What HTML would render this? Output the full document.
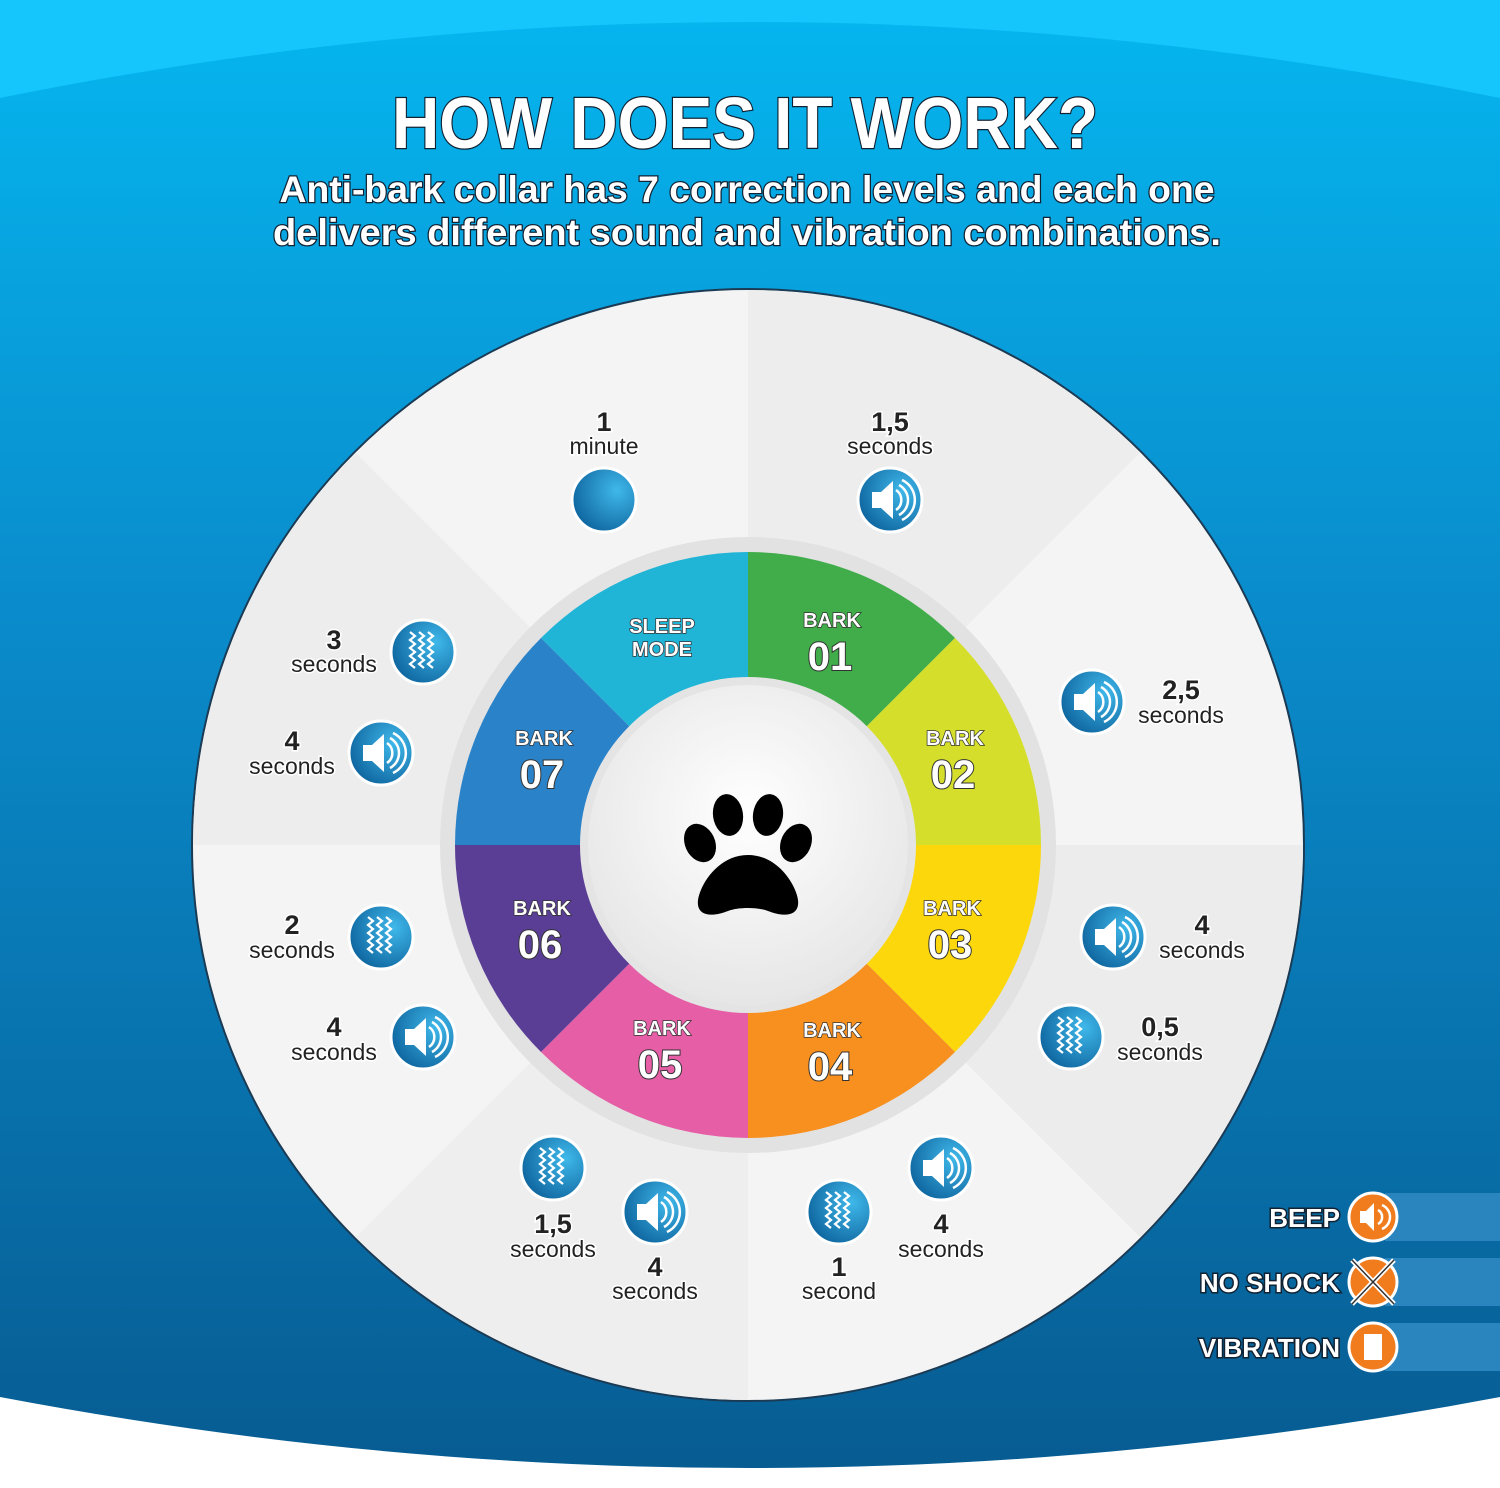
<!DOCTYPE html>
<html><head><meta charset="utf-8"><style>
html,body{margin:0;padding:0;background:#fff}
svg{display:block}
text{font-family:"Liberation Sans",sans-serif}
.t{font-weight:bold;fill:#fff;stroke:#123;stroke-width:2.5;paint-order:stroke}
.n{font-size:27px;font-weight:bold;fill:#222;stroke:#fff;stroke-width:3;paint-order:stroke;text-anchor:middle}
.s{font-size:23px;fill:#222;stroke:#fff;stroke-width:3;paint-order:stroke;text-anchor:middle}
.b1{font-size:20px;font-weight:bold;fill:#fff;stroke:#333;stroke-width:1.5;paint-order:stroke;text-anchor:middle}
.b2{font-size:40px;font-weight:bold;fill:#fff;stroke:#333;stroke-width:2;paint-order:stroke;text-anchor:middle}
.lg{font-size:26px;font-weight:bold;fill:#fff;stroke:#123;stroke-width:3;paint-order:stroke;text-anchor:end}
</style></head><body>
<svg width="1500" height="1488" viewBox="0 0 1500 1488" xmlns="http://www.w3.org/2000/svg">
<defs>
<linearGradient id="bg" x1="0" y1="0" x2="0" y2="1">
<stop offset="0" stop-color="#05b5ee"/><stop offset="0.4" stop-color="#0a8ccc"/><stop offset="1" stop-color="#075c92"/>
</linearGradient>
<radialGradient id="ic" cx="0.7" cy="0.35" r="0.8">
<stop offset="0" stop-color="#3fb8ea"/><stop offset="1" stop-color="#0b5f99"/>
</radialGradient>
<radialGradient id="ctr" cx="0.5" cy="0.4" r="0.6">
<stop offset="0" stop-color="#ffffff"/><stop offset="1" stop-color="#e6e6e6"/>
</radialGradient>
<g id="sp">
<circle r="32" fill="url(#ic)" stroke="#fff" stroke-width="3"/>
<path d="M-18,-8 L-9,-8 L3,-19 L3,19 L-9,8 L-18,8 Z" fill="#fff"/>
<path d="M6,-10 A12,12 0 0 1 6,10 M9,-15 A17,17 0 0 1 9,15 M12,-20 A22,22 0 0 1 12,20" fill="none" stroke="#fff" stroke-width="2.5"/>
</g>
<g id="vb">
<circle r="32" fill="url(#ic)" stroke="#fff" stroke-width="3"/>
<path d="M-13,-20 l5,4 l-5,4 l5,4 l-5,4 l5,4 l-5,4 l5,4 l-5,4 l5,4 M-4,-20 l5,4 l-5,4 l5,4 l-5,4 l5,4 l-5,4 l5,4 l-5,4 l5,4 M5,-20 l5,4 l-5,4 l5,4 l-5,4 l5,4 l-5,4 l5,4 l-5,4 l5,4" fill="none" stroke="#fff" stroke-width="2.2"/>
</g>
</defs>
<rect width="1500" height="1488" fill="#fff"/>
<rect width="1500" height="1000" fill="#14c6fb"/>
<path d="M0,98 Q750,-54 1500,98 L1500,1397 Q750,1539 0,1397 Z" fill="url(#bg)"/>
<text class="t" x="745" y="148" font-size="72" text-anchor="middle" textLength="706" lengthAdjust="spacingAndGlyphs">HOW DOES IT WORK?</text>
<text class="t" x="747" y="202" font-size="37" text-anchor="middle" textLength="935" lengthAdjust="spacingAndGlyphs">Anti-bark collar has 7 correction levels and each one</text>
<text class="t" x="747" y="245" font-size="37" text-anchor="middle" textLength="948" lengthAdjust="spacingAndGlyphs">delivers different sound and vibration combinations.</text>

<!-- outer disk -->
<g transform="translate(748,845)">
<circle r="556" fill="#f4f4f4" stroke="#1b3b55" stroke-width="2"/>
<path d="M0,0 L0,-555 A555,555 0 0 1 392,-392 Z" fill="#ededed"/>
<path d="M0,0 L555,0 A555,555 0 0 1 392,392 Z" fill="#ececec"/>
<path d="M0,0 L0,555 A555,555 0 0 1 -392,392 Z" fill="#eeeeee"/>
<path d="M0,0 L-555,0 A555,555 0 0 1 -392,-392 Z" fill="#ededed"/>
<circle r="308" fill="#e2e2e2"/>
<path d="M0,0 L-207,-207 A293,293 0 0 1 0,-293 Z" fill="#20b4d6"/>
<path d="M0,0 L0,-293 A293,293 0 0 1 207,-207 Z" fill="#40ad4a"/>
<path d="M0,0 L207,-207 A293,293 0 0 1 293,0 Z" fill="#d5df2b"/>
<path d="M0,0 L293,0 A293,293 0 0 1 207,207 Z" fill="#fbd70c"/>
<path d="M0,0 L207,207 A293,293 0 0 1 0,293 Z" fill="#f7901f"/>
<path d="M0,0 L0,293 A293,293 0 0 1 -207,207 Z" fill="#e55ea6"/>
<path d="M0,0 L-207,207 A293,293 0 0 1 -293,0 Z" fill="#5a3e95"/>
<path d="M0,0 L-293,0 A293,293 0 0 1 -207,-207 Z" fill="#2a82c9"/>
<circle r="168" fill="#e4e4e4"/>
<circle r="160" fill="url(#ctr)"/>
<!-- paw -->
<g fill="#000">
<path d="M0,10 C-30,10 -48,40 -50,55 C-52,72 -35,72 -20,66 C-10,62 10,62 20,66 C35,72 52,72 50,55 C48,40 30,10 0,10 Z"/>
<ellipse cx="-48" cy="-2" rx="15" ry="20" transform="rotate(-25 -48 -2)"/>
<ellipse cx="-20" cy="-30" rx="15" ry="21" transform="rotate(-8 -20 -30)"/>
<ellipse cx="20" cy="-30" rx="15" ry="21" transform="rotate(8 20 -30)"/>
<ellipse cx="48" cy="-2" rx="15" ry="20" transform="rotate(25 48 -2)"/>
</g>
</g>

<!-- ring labels -->
<text class="b1" x="662" y="633">SLEEP</text><text class="b1" x="662" y="656">MODE</text>
<text class="b1" x="832" y="627">BARK</text><text class="b2" x="830" y="670">01</text>
<text class="b1" x="955" y="745">BARK</text><text class="b2" x="953" y="788">02</text>
<text class="b1" x="952" y="915">BARK</text><text class="b2" x="950" y="958">03</text>
<text class="b1" x="832" y="1037">BARK</text><text class="b2" x="830" y="1080">04</text>
<text class="b1" x="662" y="1035">BARK</text><text class="b2" x="660" y="1078">05</text>
<text class="b1" x="542" y="915">BARK</text><text class="b2" x="540" y="958">06</text>
<text class="b1" x="544" y="745">BARK</text><text class="b2" x="542" y="788">07</text>

<!-- icons -->
<circle cx="604" cy="500" r="32" fill="url(#ic)" stroke="#fff" stroke-width="3"/>
<use href="#sp" x="890" y="500"/>
<use href="#sp" x="1092" y="702"/>
<use href="#sp" x="1113" y="937"/>
<use href="#vb" x="1071" y="1037"/>
<use href="#sp" x="941" y="1168"/>
<use href="#vb" x="839" y="1212"/>
<use href="#sp" x="655" y="1212"/>
<use href="#vb" x="553" y="1168"/>
<use href="#sp" x="423" y="1037"/>
<use href="#vb" x="381" y="937"/>
<use href="#sp" x="381" y="753"/>
<use href="#vb" x="423" y="652"/>

<text class="n" x="604" y="431">1</text><text class="s" x="604" y="454">minute</text>
<text class="n" x="890" y="431">1,5</text><text class="s" x="890" y="454">seconds</text>
<text class="n" x="1181" y="699">2,5</text><text class="s" x="1181" y="723">seconds</text>
<text class="n" x="1202" y="934">4</text><text class="s" x="1202" y="958">seconds</text>
<text class="n" x="1160" y="1036">0,5</text><text class="s" x="1160" y="1060">seconds</text>
<text class="n" x="941" y="1233">4</text><text class="s" x="941" y="1257">seconds</text>
<text class="n" x="839" y="1276">1</text><text class="s" x="839" y="1299">second</text>
<text class="n" x="655" y="1276">4</text><text class="s" x="655" y="1299">seconds</text>
<text class="n" x="553" y="1233">1,5</text><text class="s" x="553" y="1257">seconds</text>
<text class="n" x="334" y="1036">4</text><text class="s" x="334" y="1060">seconds</text>
<text class="n" x="292" y="934">2</text><text class="s" x="292" y="958">seconds</text>
<text class="n" x="292" y="750">4</text><text class="s" x="292" y="774">seconds</text>
<text class="n" x="334" y="649">3</text><text class="s" x="334" y="672">seconds</text>

<!-- legend -->
<rect x="1385" y="1193" width="115" height="48" fill="#2a84bd"/>
<rect x="1385" y="1258" width="115" height="48" fill="#2a84bd"/>
<rect x="1385" y="1323" width="115" height="48" fill="#2a84bd"/>
<g stroke="#fff" stroke-width="3">
<circle cx="1373" cy="1217" r="24" fill="#f07c1e"/>
<circle cx="1373" cy="1282" r="24" fill="#f07c1e"/>
<circle cx="1373" cy="1347" r="24" fill="#f07c1e"/>
</g>
<path d="M1360,1211 L1366,1211 L1374,1203 L1374,1231 L1366,1223 L1360,1223 Z" fill="#fff"/>
<path d="M1378,1210 A8,8 0 0 1 1378,1224 M1382,1205 A13,13 0 0 1 1382,1229" fill="none" stroke="#fff" stroke-width="2.5"/>
<path d="M1352,1260 L1394,1304 M1394,1260 L1352,1304" stroke="#fff" stroke-width="5"/>
<path d="M1352,1260 L1394,1304 M1394,1260 L1352,1304" stroke="#333" stroke-width="1.5"/>
<rect x="1364" y="1334" width="18" height="26" fill="#fff"/>
<text class="lg" x="1340" y="1227">BEEP</text>
<text class="lg" x="1340" y="1292">NO SHOCK</text>
<text class="lg" x="1340" y="1357">VIBRATION</text>
</svg>
</body></html>
